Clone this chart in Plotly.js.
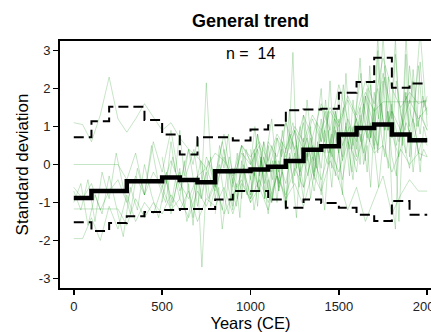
<!DOCTYPE html>
<html>
<head>
<meta charset="utf-8">
<script src="https://cdn.plot.ly/plotly-3.0.1.min.js"></script>
<style>
html,body{margin:0;padding:0;overflow:hidden;background:#fff;}
#chart{width:450px;height:332px;}
</style>
</head>
<body>
<div id="chart"></div>
<script>
// ---- year grids ----
const G50 = [0,50,100,150,200,250,300,350,400,450,500,550,600,650,700,750,800,850,900,950,1000,1050,1100,1150,1200,1250,1300,1350,1400,1450,1500,1550,1600,1650,1700,1750,1800,1850,1900,1950,2000];
const G40 = [0,40,80,120,160,200,240,280,320,360,400,440,480,520,560,600,640,680,720,760,800,840,880,920,960,1000,1040,1080,1120,1160,1200,1240,1280,1320,1360,1400,1440,1480,1520,1560,1600,1640,1680,1720,1760,1800,1840,1880,1920,1960,2000];
const G25L = [500,525,550,575,600,625,650,675,700,725,750,775,800,825,850,875,900,925,950,975,1000,1025,1050,1075,1100,1125,1150,1175,1200,1225,1250,1275,1300,1325,1350,1375,1400,1425,1450,1475,1500,1525,1550,1575,1600,1625,1650,1675,1700,1725,1750,1775,1800,1825,1850,1875,1900,1925,1950,1975,2000];
const G20L = [1000,1020,1040,1060,1080,1100,1120,1140,1160,1180,1200,1220,1240,1260,1280,1300,1320,1340,1360,1380,1400,1420,1440,1460,1480,1500,1520,1540,1560,1580,1600,1620,1640,1660,1680,1700,1720,1740,1760,1780,1800,1820,1840,1860,1880,1900,1920,1940,1960,1980,2000];
const G20M = [800,820,840,860,880,900,920,940,960,980,1000,1020,1040,1060,1080,1100,1120,1140,1160,1180,1200,1220,1240,1260,1280,1300,1320,1340,1360,1380,1400,1420,1440,1460,1480,1500,1520,1540,1560,1580,1600,1620,1640,1660,1680,1700,1720,1740,1760,1780,1800,1820,1840,1860,1880,1900,1920,1940,1960,1980,2000];

// ---- individual records (standardised) ----
const recA = [0.00,0.00,0.00,0.00,0.00,0.00, -0.4,0.3,-0.8,0.6, -0.2,0.9,-0.5,0.4,-1.1, 0.2,-0.3,0.8,-0.6,0.5, 0.1,-0.7,0.6,0.2,1.1, 0.4,1.3,0.7,1.6,0.9, 2.1,1.2,0.6,1.8,1.0, 2.4,1.4,0.9,1.7,1.2,1.5];
const recB = [1.10,1.05,0.60,1.30,2.30, 1.20,0.85,1.20,1.60,1.25, 0.90,1.10,0.70,0.40,0.20, -0.10,0.30,0.10,-0.30,0.50, 0.20,0.60,0.10,0.80,0.40, 1.00,0.60,1.30,0.90,1.50, 1.10,1.80,1.30,2.20,1.60, 2.80,2.00,1.50,1.90,1.60,1.70];
const recC = [-1.17,-1.17,-1.17,-1.17,-1.17, -1.17,-1.60,-0.90,-1.40,-1.00, -1.30,-0.80,-1.20,-0.70,-1.50, -0.90,-1.10,-0.60,-1.30,-0.50, -0.90,-0.40,-1.00,-0.30,-0.80, -0.10,-0.60,0.20,-0.40,0.40, -0.20,0.60,0.10,0.90,0.30, 0.50,-0.20,0.40,0.00,0.30,0.20];
const recD = [-1.95,-1.95,-1.40,-2.00,-1.10, -1.70,-0.80,-1.50,-1.00,-1.30, -0.60,-1.20,-0.90,-1.40,-0.70, -1.10,-0.50,-1.30,-0.80,-0.40, -1.00,-0.60,-1.20,-0.30,-0.90, -0.50,-1.10,-0.20,-0.70,0.10, -0.40,-1.20,-0.60,-1.50,-0.90, -0.30,-1.30,-0.80,-0.40,-0.70,-0.70];
const recN = [-0.60,-0.90,-0.50,-1.20,-0.70, -0.40,-1.00,-0.30,-0.80,-0.20, -0.60,0.10,-0.50,-0.90,-0.30, -0.10,-0.70,0.20,-0.40,0.30, 0.00,0.50,-0.20,0.70,0.20, 0.90,0.40,1.20,0.60,1.40, 1.00,1.70,1.20,1.90,1.40, 1.65,1.65,1.65,1.65,1.65,1.65];
const recE = [-0.70,-1.20,-0.40,-1.50,-0.20, -0.90,0.30,-0.60,-1.30,-0.10, -0.80,0.50,-0.50,-1.00,0.20, -0.70,-0.20,0.40,-0.90,0.10, -0.60,0.60,-0.30,-1.10,0.30, -0.40,0.80,-0.20,0.50,-0.60, 0.40,1.10,0.00,0.70,-0.30, 0.90,0.30,1.40,0.50,1.00, 0.20,1.60,0.70,2.00,0.90, 1.40,0.60,1.80,1.10,3.50,1.00];
const recF = [-1.00,-0.50,-1.60,-0.80,-1.30, -0.30,-1.10,-1.90,-0.60,-1.20, 0.00,-0.80,-1.40,-0.40,-1.00, -0.20,-1.50,-0.70,0.10,-0.90, -0.40,-1.20,0.20,-0.60,-0.10, -0.90,0.40,-0.30,-1.00,0.10, -0.50,0.60,-0.20,0.30,-0.70, 0.50,0.00,0.90,-0.40,0.70, 1.20,0.30,1.00,0.50,2.60, 0.80,0.20,1.10,0.60,1.30,0.90];
const recG = [-0.60,-0.20,-1.10,-0.40,-0.90, 0.10,-0.70,-1.40,-0.30,-2.70, -0.50,0.20,-0.90,-0.30,0.40, -0.60,-1.20,-0.10,0.50,-0.40, -0.80,0.30,-0.20,0.60,-0.70, 0.10,-1.00,0.40,0.00,0.80, -0.30,0.60,1.10,0.20,0.70, -0.10,0.90,1.40,0.40,1.00, 0.30,1.50,0.70,-0.20,1.20, 0.60,1.80,1.00,0.40,1.30, 2.20,0.90,1.60,0.50,1.10, 1.90,0.80,1.40,2.60,1.20,0.90];
const recH = [0.20,-0.50,0.60,-0.20,0.90, -0.30,0.40,0.00,0.70,-0.40, 2.15,0.10,-0.60,0.50,-0.10, 0.80,-0.50,0.30,-0.90,0.40, 0.00,1.00,-0.30,0.60,0.10, -0.40,0.70,0.20,1.20,0.40, 0.90,0.00,1.30,0.50,-0.20, 1.10,0.60,1.70,0.30,1.20, 0.80,2.10,1.00,0.40,1.50, 2.40,1.10,0.60,1.90,1.20, 3.40,1.40,0.70,2.20,1.30, 0.90,2.60,1.50,1.00,1.80,1.40];
const recI = [-1.00,-0.40,-1.30,-0.70,-0.10, -1.20,-0.50,-1.60,-0.30,-0.90, -0.20,-1.10,-0.60,0.00,-0.80, -1.30,-0.40,-0.90,0.10,-0.60, -1.00,-0.20,-0.70,0.20,-0.40, -0.90,0.00,-0.50,-1.20,-0.10, 0.30,-0.60,0.10,-0.30,0.50, 0.00,-0.80,0.40,2.20,0.20, -0.40,0.70,1.20,0.30,-0.20, 0.80,0.10,2.60,0.50,-0.60, 0.60,1.40,0.20,-0.30,0.90, 0.40,-0.10,1.10,0.30,0.70,0.50];
const recJ = [-0.30,0.40,-0.60,0.20,-0.90, 0.50,-0.20,0.10,-0.50,0.60, 0.00,0.80,2.95,0.30,-0.30, 0.70,0.10,1.00,-0.20,0.50, 1.20,0.30,0.90,-0.10,1.40, 0.60,0.20,1.10,0.40,1.70, 0.80,0.00,1.30,2.00,0.70, 1.50,0.40,1.10,2.30,0.90, 1.60,3.30,1.20,0.50,1.90, 1.00,2.50,1.40,0.80,1.70,1.30];
const recK = [-0.80,-0.20,-1.10,0.10,-0.60, -1.30,-0.30,0.30,-0.70,-0.10, -1.00,0.20,-0.40,-1.40,0.00, -0.60,0.40,-0.90,-0.20,0.60, -0.50,-1.20,0.10,0.80,-0.30, 0.40,-0.80,1.00,0.20,-0.40, 0.70,1.30,0.00,0.50,-0.60, 1.10,0.30,1.60,0.60,-0.10, 1.40,0.40,-1.50,0.90,2.90, 0.20,1.20,0.70,-0.20,1.00,0.60];
const recL = [0.40,-0.30,0.80,0.10,-0.50, 0.60,1.20,0.20,-0.20,0.90, 0.30,1.40,0.50,-0.10,1.00, 0.40,1.70,0.80,0.10,1.20, 2.00,0.60,1.40,0.20,1.00, 1.80,0.70,2.40,1.10,0.50, 1.60,2.80,1.30,0.70,2.10, 1.00,3.40,1.50,0.90,2.30, 1.20,2.90,1.70,1.10,3.40, 1.60,2.20,1.00,2.70,1.50,1.80];
const recM = [-1.30,-0.60,-1.70,-0.90,-0.20, -1.10,-0.50,-1.40,0.00,-0.80, -0.30,-1.20,-0.60,0.20,-0.90, -0.40,-1.00,0.10,-0.70,-0.20, -1.10,0.30,-0.50,0.50,-0.30, -0.90,0.20,0.70,-0.40,0.40, -0.10,0.90,0.30,-0.60,0.60, 1.20,0.10,0.80,-0.30,1.00, 0.40,1.50,0.60,-0.20,1.10, 0.50,3.00,0.80,0.20,1.40, -0.90,-1.70,0.60,1.10,0.30, 0.90,-0.20,0.60,0.10,0.40,0.20];

// ---- century composite (median and envelope) ----
const stepYears = [0,100,200,300,400,500,600,700,800,900,1000,1100,1200,1300,1400,1500,1600,1700,1800,1900,2000];
const medianVals = [-0.88,-0.70,-0.70,-0.44,-0.44,-0.34,-0.41,-0.47,-0.18,-0.17,-0.13,-0.06,0.09,0.39,0.48,0.79,0.96,1.05,0.79,0.64,0.64];
const upperVals = [0.72,1.14,1.52,1.52,1.17,0.79,0.26,0.72,0.72,0.63,0.92,1.03,1.43,1.45,1.47,1.89,2.17,2.81,2.02,2.13,2.13];
const lowerVals = [-1.52,-1.75,-1.54,-1.36,-1.25,-1.20,-1.17,-1.17,-0.92,-0.70,-0.70,-0.92,-1.14,-0.92,-1.01,-1.14,-1.32,-1.49,-0.96,-1.32,-1.32];

const nRecords = 14;
const xTicks = [0,500,1000,1500,2000];
const yTicks = [-3,-2,-1,0,1,2,3];

const records = [
  [G50,recA],[G50,recB],[G50,recC],[G50,recD],[G50,recN],
  [G40,recE],[G40,recF],
  [G25L,recG],[G25L,recH],[G25L,recI],
  [G20L,recJ],[G20L,recK],[G20L,recL],
  [G20M,recM]
];

const traces = records.map(r => ({
  x: r[0], y: r[1], type:'scatter', mode:'lines',
  line:{color:'rgba(0,140,0,0.30)', width:0.75},
  hoverinfo:'skip', showlegend:false
}));
traces.push({x:stepYears, y:upperVals, type:'scatter', mode:'lines',
  line:{color:'#000', width:2, dash:'10px,5px', shape:'hv'}, showlegend:false});
traces.push({x:stepYears, y:lowerVals, type:'scatter', mode:'lines',
  line:{color:'#000', width:2, dash:'10px,5px', shape:'hv'}, showlegend:false});
traces.push({x:stepYears, y:medianVals, type:'scatter', mode:'lines',
  line:{color:'#000', width:4.5, shape:'hv'}, showlegend:false});

const fontFam = 'Arial, "Liberation Sans", sans-serif';
const layout = {
  width:450, height:332,
  margin:{l:60, r:9, t:41, b:44},
  paper_bgcolor:'#fff', plot_bgcolor:'#fff',
  font:{family:fontFam, color:'#222', size:13},
  title:{text:'<b>General trend</b>', font:{size:18, color:'#000', family:fontFam},
         x:0.5, xref:'paper', y:1-21/332, yref:'container', yanchor:'middle'},
  xaxis:{range:[-78,2078], tickvals:xTicks, ticktext:xTicks.map(String),
    showgrid:false, zeroline:false, showline:true, linecolor:'#000', linewidth:2, mirror:true,
    ticks:'outside', ticklen:5, tickwidth:1.5, tickcolor:'#000', ticklabelstandoff:0,
    tickfont:{size:13, color:'#222'},
    title:{text:'Years (CE)', font:{size:16.5, color:'#000'}, standoff:7}},
  yaxis:{range:[-3.25,3.25], tickvals:yTicks, ticktext:yTicks.map(String),
    showgrid:false, zeroline:false, showline:true, linecolor:'#000', linewidth:2, mirror:true,
    ticks:'outside', ticklen:5, tickwidth:1.5, tickcolor:'#000',
    tickfont:{size:13, color:'#222'},
    title:{text:'Standard deviation', font:{size:17, color:'#000'}, standoff:6}},
  annotations:[{text:'n =\u00a0\u00a0' + String(nRecords), xref:'paper', yref:'paper', x:0.5, y:1,
    yanchor:'top', yshift:-2, showarrow:false, font:{size:16, color:'#000'}}]
};
Plotly.newPlot('chart', traces, layout, {staticPlot:true, displayModeBar:false});
</script>
</body>
</html>
